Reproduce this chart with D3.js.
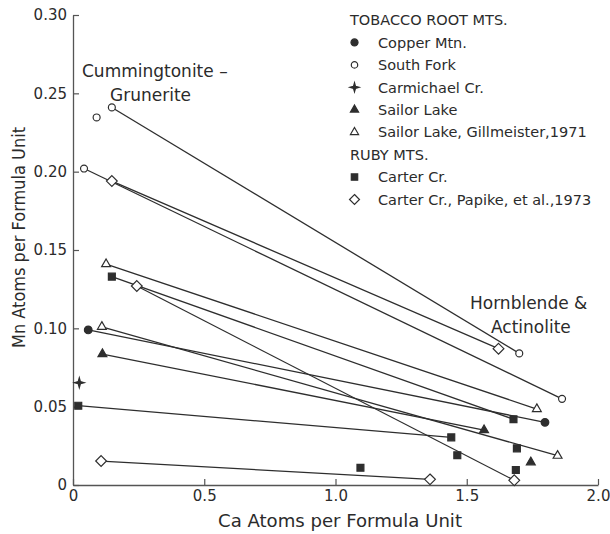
<!DOCTYPE html>
<html>
<head>
<meta charset="utf-8">
<script src="https://cdn.jsdelivr.net/npm/d3@7/dist/d3.min.js"></script>
<style>
  html, body { margin: 0; padding: 0; background: #fff; }
  svg { display: block; }
  text { font-family: "DejaVu Sans", sans-serif; fill: #2b2b2b; }
</style>
</head>
<body>
<svg id="chart" width="610" height="534"></svg>
<script>
// Localities (legend order)
const groups = ["Copper Mtn.", "South Fork", "Carmichael Cr.", "Sailor Lake",
  "Sailor Lake, Gillmeister,1971", "Carter Cr.", "Carter Cr., Papike, et al.,1973"];
const legendHeaders = ["TOBACCO ROOT MTS.", "RUBY MTS."];

// Tie lines: cummingtonite-grunerite end (low Ca) to hornblende/actinolite end (high Ca)
const tieGroup  = ["South Fork", "South Fork", "Carter Cr., Papike, et al.,1973",
  "Sailor Lake, Gillmeister,1971", "Carter Cr.", "Carter Cr., Papike, et al.,1973",
  "Copper Mtn.", "Sailor Lake, Gillmeister,1971", "Sailor Lake", "Carter Cr.",
  "Carter Cr., Papike, et al.,1973"];
const tieCaCumm = [0.148, 0.042, 0.148, 0.126, 0.148, 0.243, 0.058, 0.110, 0.112, 0.020, 0.107];
const tieMnCumm = [0.241, 0.202, 0.194, 0.141, 0.133, 0.127, 0.099, 0.101, 0.0836, 0.0506, 0.0153];
const tieCaHbl  = [1.700, 1.863, 1.621, 1.767, 1.678, 1.681, 1.798, 1.846, 1.566, 1.441, 1.360];
const tieMnHbl  = [0.084, 0.055, 0.087, 0.0485, 0.042, 0.003, 0.040, 0.0187, 0.035, 0.0304, 0.0036];

// Analyses plotted without a tie line
const soloGroup = ["South Fork", "Carmichael Cr.", "Carter Cr.", "Carter Cr.", "Carter Cr.",
  "Carter Cr.", "Sailor Lake"];
const soloCa = [0.090, 0.024, 1.464, 1.691, 1.687, 1.095, 1.744];
const soloMn = [0.2346, 0.0653, 0.019, 0.0234, 0.0096, 0.011, 0.0145];

// Axis ticks
const xTicks = [0, 0.5, 1.0, 1.5, 2.0];
const yTicks = [0, 0.05, 0.10, 0.15, 0.20, 0.25, 0.30];

const svg = d3.select("#chart");
const x = d3.scaleLinear().domain([0, 2]).range([73, 598]);
const y = d3.scaleLinear().domain([0, 0.3]).range([485, 15]);

// Marker shapes
const star4 = {
  draw(ctx, size) {
    const r = Math.sqrt(size) * 0.75, w = r * 0.22;
    ctx.moveTo(0, -r); ctx.lineTo(w, -w); ctx.lineTo(r, 0); ctx.lineTo(w, w);
    ctx.lineTo(0, r); ctx.lineTo(-w, w); ctx.lineTo(-r, 0); ctx.lineTo(-w, -w);
    ctx.closePath();
  }
};
const diamondSq = {
  draw(ctx, size) {
    const r = Math.sqrt(size / 2);
    ctx.moveTo(0, -r); ctx.lineTo(r, 0); ctx.lineTo(0, r); ctx.lineTo(-r, 0); ctx.closePath();
  }
};
const markerStyle = {
  "Copper Mtn.":                      { type: d3.symbolCircle,   size: 46, filled: true },
  "South Fork":                       { type: d3.symbolCircle,   size: 38, filled: false },
  "Carmichael Cr.":                   { type: star4,             size: 44, filled: true },
  "Sailor Lake":                      { type: d3.symbolTriangle, size: 34, filled: true },
  "Sailor Lake, Gillmeister,1971":    { type: d3.symbolTriangle, size: 34, filled: false },
  "Carter Cr.":                       { type: d3.symbolSquare,   size: 48, filled: true },
  "Carter Cr., Papike, et al.,1973":  { type: diamondSq,         size: 58, filled: false }
};
const ink = "#2e2e2e";

function drawMarker(sel, g, cx, cy, scale) {
  const st = markerStyle[g];
  sel.append("path")
    .attr("d", d3.symbol().type(st.type).size(st.size * (scale || 1))())
    .attr("transform", `translate(${cx},${cy})`)
    .attr("fill", st.filled ? ink : "#fff")
    .attr("stroke", ink)
    .attr("stroke-width", 1.2);
}

// Axes
const yAxis = d3.axisLeft(y).tickValues(yTicks).tickSize(-6).tickSizeOuter(0).tickPadding(6)
  .tickFormat(d => d === 0 ? "0" : d3.format(".2f")(d));
const xAxis = d3.axisBottom(x).tickValues(xTicks).tickSize(-6).tickSizeOuter(0).tickPadding(5)
  .tickFormat(d => d === 0 ? "0" : d3.format(".1f")(d));

const gy = svg.append("g").attr("transform", "translate(73,0)").call(yAxis);
const gx = svg.append("g").attr("transform", "translate(0,485)").call(xAxis);
[gx, gy].forEach(g => {
  g.select(".domain").attr("stroke", "#555").attr("stroke-width", 1.3);
  g.selectAll(".tick line").attr("stroke", "#555").attr("stroke-width", 1.2);
  g.selectAll(".tick text").attr("font-size", 15).attr("fill", "#333")
    .style("font-family", "'DejaVu Sans', sans-serif");
});

// Axis titles
svg.append("text")
  .attr("x", 340).attr("y", 527).attr("text-anchor", "middle")
  .attr("font-size", 17).attr("textLength", 244).attr("lengthAdjust", "spacingAndGlyphs")
  .text("Ca Atoms per Formula Unit");
svg.append("text")
  .attr("transform", "translate(25,237.5) rotate(-90)")
  .attr("text-anchor", "middle")
  .attr("font-size", 17).attr("textLength", 221).attr("lengthAdjust", "spacingAndGlyphs")
  .text("Mn Atoms per Formula Unit");

// Tie lines
const ties = tieGroup.map((g, i) => ({ g, x1: tieCaCumm[i], y1: tieMnCumm[i], x2: tieCaHbl[i], y2: tieMnHbl[i] }));
svg.append("g").selectAll("line").data(ties).join("line")
  .attr("x1", d => x(d.x1)).attr("y1", d => y(d.y1))
  .attr("x2", d => x(d.x2)).attr("y2", d => y(d.y2))
  .attr("stroke", ink).attr("stroke-width", 1.3);

// Markers
const mk = svg.append("g");
ties.forEach(d => {
  drawMarker(mk, d.g, x(d.x1), y(d.y1));
  drawMarker(mk, d.g, x(d.x2), y(d.y2));
});
soloGroup.forEach((g, i) => drawMarker(mk, g, x(soloCa[i]), y(soloMn[i])));

// Field labels
const ann = svg.append("g").attr("font-size", 17);
ann.append("text").attr("x", 82).attr("y", 77).text("Cummingtonite –");
ann.append("text").attr("x", 110).attr("y", 101).text("Grunerite");
ann.append("text").attr("x", 470).attr("y", 309).text("Hornblende &");
ann.append("text").attr("x", 491).attr("y", 333).text("Actinolite");

// Legend
const legendRows = [legendHeaders[0], ...groups.slice(0, 5), legendHeaders[1], ...groups.slice(5)];
const ly = d3.scalePoint().domain(legendRows).range([20, 199.5]);
const lg = svg.append("g");
legendRows.forEach(r => {
  const isHeader = legendHeaders.includes(r);
  lg.append("text")
    .attr("x", isHeader ? 350 : 378).attr("y", ly(r)).attr("dy", "0.36em")
    .attr("font-size", 14.5).text(r);
  if (!isHeader) drawMarker(lg, r, 354.5, ly(r), 0.85);
});
</script>
</body>
</html>
